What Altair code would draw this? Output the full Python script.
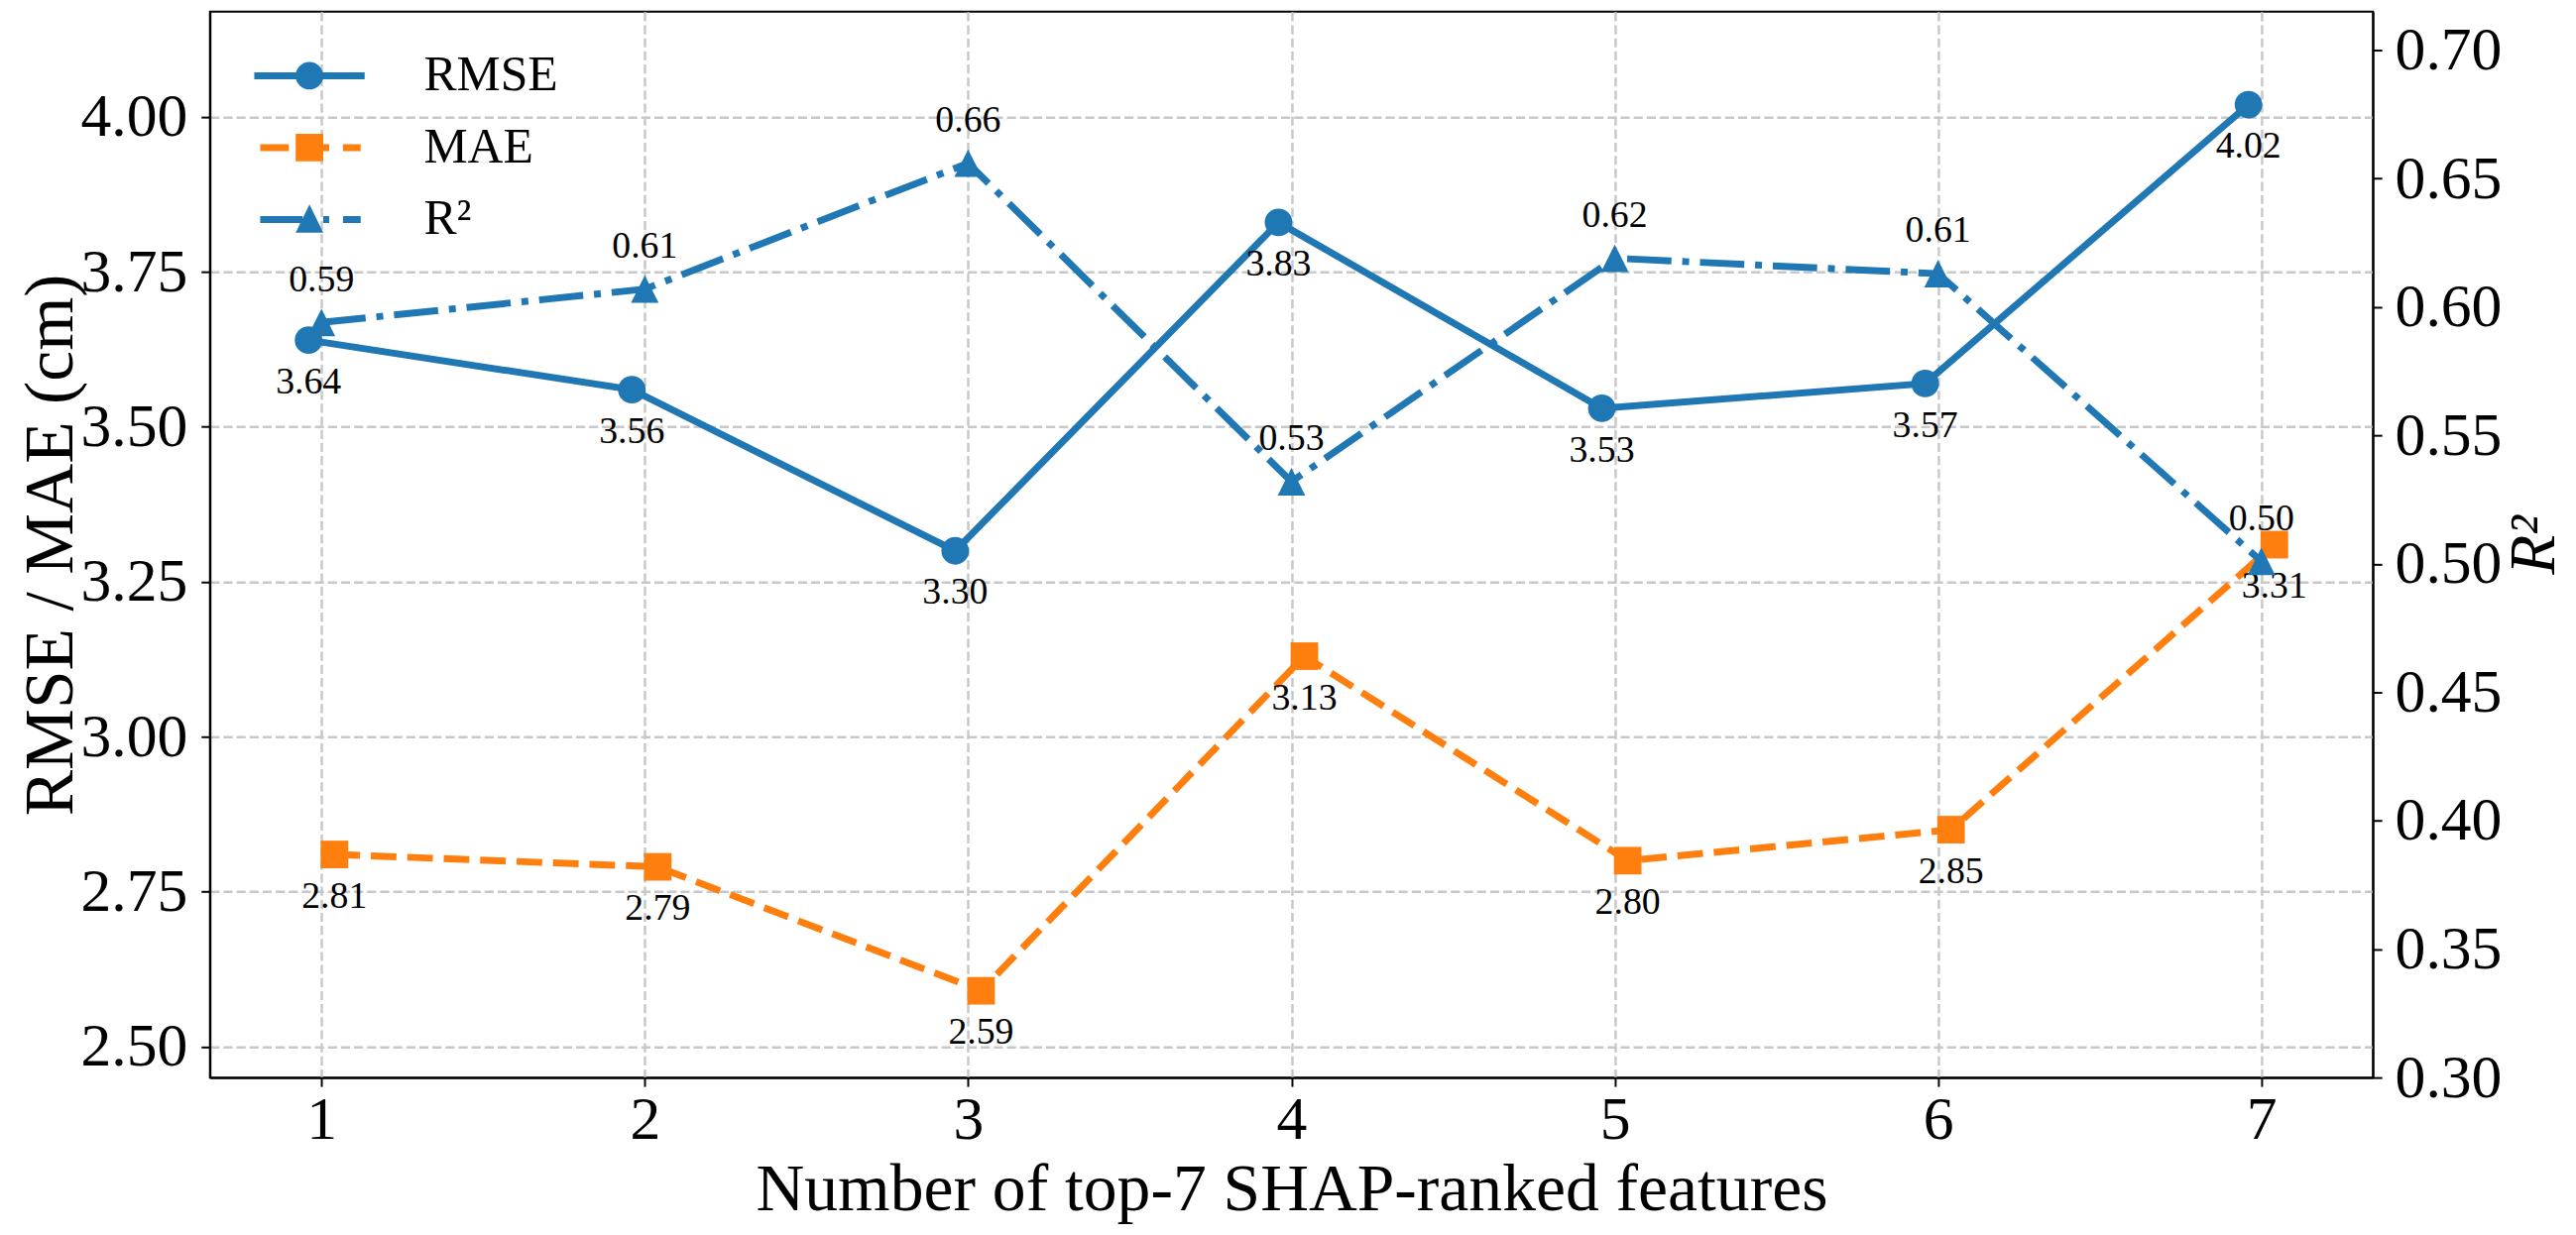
import altair as alt
import pandas as pd

# ---------------- data ----------------
features = [1, 2, 3, 4, 5, 6, 7]
rmse = [3.64, 3.56, 3.30, 3.83, 3.53, 3.57, 4.02]
mae = [2.81, 2.79, 2.59, 3.13, 2.80, 2.85, 3.31]
r2 = [0.594, 0.607, 0.656, 0.532, 0.619, 0.613, 0.501]
series_names = ["RMSE", "MAE", "R²"]
left_ticks = [2.50, 2.75, 3.00, 3.25, 3.50, 3.75, 4.00]
right_ticks = [0.30, 0.35, 0.40, 0.45, 0.50, 0.55, 0.60, 0.65, 0.70]

BLUE = "#1f77b4"
ORANGE = "#ff7f0e"
FONT = "Liberation Serif"

rows = []
for name, vals in zip(series_names, [rmse, mae, r2]):
    for n, v in zip(features, vals):
        rows.append({"n": n, "series": name, "value": v})
df = pd.DataFrame(rows)

# marker shapes
TRI = "M0,-1L1,1H-1Z"
# legend symbols: line + marker drawn as filled paths (unit = 14 px at size 784)
LEG_RMSE = "M-4,-0.25H4V0.25H-4Z M-1,0A1,1 0 1,1 1,0A1,1 0 1,1 -1,0Z"
LEG_MAE = ("M-3.57,-0.25H-1.5V0.25H-3.57Z M-1,-1H1V1H-1Z "
           "M1,-0.25H1.43V0.25H1Z M2.43,-0.25H3.71V0.25H2.43Z")
LEG_R2 = ("M-3.57,-0.25H-0.5V0.25H-3.57Z M0,-1.1L1,0.95H-1Z "
          "M1,-0.25H1.43V0.25H1Z M2.43,-0.25H3.71V0.25H2.43Z")

base = alt.Chart(df).transform_calculate(
    xs="datum.n + (datum.series == 'RMSE' ? -0.04 : (datum.series == 'MAE' ? 0.04 : 0))"
)


def xenc():
    return alt.X(
        "xs:Q",
        scale=alt.Scale(domain=[0.655, 7.345], nice=False, zero=False),
        axis=alt.Axis(values=features, format="d",
                      title="Number of top-7 SHAP-ranked features",
                      grid=True, labelPadding=4, titlePadding=6, labelFlush=False,
                      titleFontSize=68),
    )


def yleft():
    return alt.Y(
        "value:Q",
        scale=alt.Scale(domain=[2.45, 4.17], nice=False, zero=False),
        axis=alt.Axis(orient="left", values=left_ticks, format=".2f",
                      title="RMSE / MAE (cm)", grid=True,
                      labelPadding=14, titlePadding=-6, titleFontSize=70),
    )


def yright():
    return alt.Y(
        "value:Q",
        scale=alt.Scale(domain=[0.30, 0.715], nice=False, zero=False),
        axis=alt.Axis(orient="right", values=right_ticks, format=".2f",
                      title="R²", grid=False, labelPadding=13,
                      titleFontStyle="italic", titleAngle=270, titleFontSize=66,
                      titleBaseline="alphabetic", titleAlign="center",
                      titleX=183, titleY=541),
    )


shape_scale = alt.Scale(domain=series_names, range=["circle", "square", TRI])
color_scale = alt.Scale(domain=series_names, range=[BLUE, ORANGE, BLUE])

is_rmse = alt.datum.series == "RMSE"
is_mae = alt.datum.series == "MAE"
is_r2 = alt.datum.series == "R²"
is_left = (alt.datum.series == "RMSE") | (alt.datum.series == "MAE")

rmse_line = base.transform_filter(is_rmse).mark_line(
    color=BLUE, strokeWidth=7, strokeCap="butt").encode(x=xenc(), y=yleft())
mae_line = base.transform_filter(is_mae).mark_line(
    color=ORANGE, strokeWidth=7, strokeCap="butt", strokeDash=[26, 11]).encode(x=xenc(), y=yleft())
left_pts = base.transform_filter(is_left).mark_point(
    filled=True, size=784, opacity=1, strokeWidth=0).encode(
    x=xenc(), y=yleft(),
    shape=alt.Shape("series:N", scale=shape_scale, legend=None),
    color=alt.Color("series:N", scale=color_scale, legend=None),
)
left_text = base.transform_filter(is_left).mark_text(
    font=FONT, fontSize=38, color="black", dy=43, baseline="middle", align="center").encode(
    x=xenc(), y=yleft(), text=alt.Text("value:Q", format=".2f"))

left = alt.layer(rmse_line, mae_line, left_pts, left_text)

r2_line = base.transform_filter(is_r2).mark_line(
    color=BLUE, strokeWidth=7, strokeCap="butt", strokeDash=[45, 11, 7, 11]).encode(x=xenc(), y=yright())
r2_pts = base.transform_filter(is_r2).mark_point(
    filled=True, size=784, opacity=1, strokeWidth=0).encode(
    x=xenc(), y=yright(),
    shape=alt.Shape("series:N", scale=shape_scale, legend=None),
    color=alt.Color("series:N", scale=color_scale, legend=None),
)
r2_text = base.transform_filter(is_r2).mark_text(
    font=FONT, fontSize=38, color="black", dy=-43, baseline="middle", align="center").encode(
    x=xenc(), y=yright(), text=alt.Text("value:Q", format=".2f"))

right = alt.layer(r2_line, r2_pts, r2_text)

leg = alt.Legend(title=None, orient="none", legendX=76, legendY=40,
                 labelFont=FONT, labelFontSize=50, labelColor="black",
                 labelOffset=91, rowPadding=23, padding=0, symbolSize=784,
                 symbolOpacity=1, symbolStrokeWidth=0, labelLimit=0)

legend_layer = base.transform_filter("false").mark_point(filled=True, size=784, opacity=1).encode(
    x=xenc(),
    y=alt.Y("value:Q", axis=None),
    shape=alt.Shape("series:N", scale=alt.Scale(domain=series_names,
                                                range=[LEG_RMSE, LEG_MAE, LEG_R2]), legend=leg),
    color=alt.Color("series:N", scale=alt.Scale(domain=series_names,
                                                range=[BLUE, ORANGE, BLUE]), legend=leg),
)

chart = alt.layer(legend_layer, left, right).resolve_scale(
    y="independent", shape="independent", color="independent"
).properties(
    width=2195, height=1082, background="white",
    padding={"left": 8, "top": 0, "right": 2, "bottom": 4},
).configure_view(
    stroke="black", strokeWidth=2
).configure_axis(
    labelFont=FONT, labelFontSize=62, titleFont=FONT, titleFontSize=62,
    titleFontWeight="normal", labelColor="black", titleColor="black",
    domainColor="black", domainWidth=2, tickColor="black", tickWidth=2, tickSize=9,
    gridColor="#c8c8c8", gridDash=[9.25, 4], gridWidth=2.5,
)

chart.save("out.html", embed_options={"renderer": "svg", "actions": False})
